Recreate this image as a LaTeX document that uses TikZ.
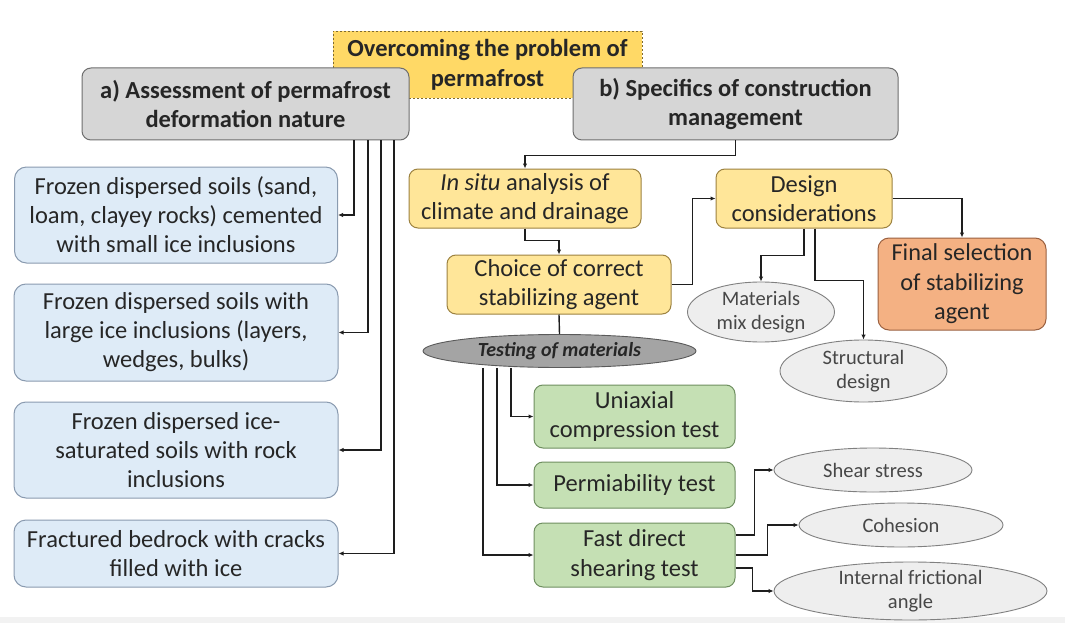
\documentclass[tikz,border=0pt]{standalone}
\usepackage{fontspec}
\setmainfont{Carlito}
\usetikzlibrary{shapes.geometric,arrows.meta}
\definecolor{txt}{HTML}{262626}
\definecolor{grayfill}{HTML}{D6D6D6}
\definecolor{graydraw}{HTML}{6E6E6E}
\definecolor{topfill}{HTML}{FFD966}
\definecolor{topdraw}{HTML}{7F6A30}
\definecolor{bluefill}{HTML}{DEEBF7}
\definecolor{bluedraw}{HTML}{8A9BB0}
\definecolor{yelfill}{HTML}{FFE699}
\definecolor{yeldraw}{HTML}{9C8240}
\definecolor{orfill}{HTML}{F4B183}
\definecolor{ordraw}{HTML}{9A6040}
\definecolor{grfill}{HTML}{C5E0B4}
\definecolor{grdraw}{HTML}{6F8F60}
\definecolor{ellfill}{HTML}{EEEEEE}
\definecolor{elldraw}{HTML}{808080}
\definecolor{testfill}{HTML}{A4A4A4}
\definecolor{testdraw}{HTML}{5A5A5A}
\definecolor{linecol}{HTML}{1E1E1E}
\definecolor{bandcol}{HTML}{F2F2F2}
\tikzset{
  basebox/.style={rectangle, rounded corners=9pt, inner sep=0pt, align=center, text=txt, line width=1pt},
  graybox/.style={basebox, fill=grayfill, draw=graydraw, font=\fontsize{24.5}{29}\selectfont\bfseries},
  topbox/.style={basebox, rounded corners=0pt, fill=topfill, draw=topdraw, dashed, dash pattern=on 2pt off 2pt, line width=0.8pt, font=\fontsize{24.5}{30}\selectfont\bfseries},
  bluebox/.style={basebox, rounded corners=12pt, fill=bluefill, draw=bluedraw, font=\fontsize{24.5}{29}\selectfont},
  yelbox/.style={basebox, fill=yelfill, draw=yeldraw, font=\fontsize{24.5}{29}\selectfont},
  orbox/.style={basebox, rounded corners=11pt, fill=orfill, draw=ordraw, font=\fontsize{24.3}{29.5}\selectfont},
  grbox/.style={basebox, fill=grfill, draw=grdraw, font=\fontsize{24.5}{29.5}\selectfont},
  ellnode/.style={ellipse, inner xsep=0pt, inner ysep=-5pt, align=center, fill=ellfill, draw=elldraw, line width=0.9pt, text=txt!85, font=\fontsize{20.5}{24}\selectfont},
  testnode/.style={ellipse, inner sep=0pt, text height=11pt, text depth=0pt, align=center, fill=testfill, draw=testdraw, line width=0.9pt, text=txt, font=\fontsize{20}{22}\selectfont\bfseries\itshape},
  conn/.style={draw=linecol, line width=1.4pt},
  arr/.style={conn, -{Latex[length=5pt,width=4.5pt]}},
}
\begin{document}
\begin{tikzpicture}[x=1pt,y=-1pt]
\useasboundingbox (0,0) rectangle (1065,623);
\fill[white] (0,0) rectangle (1065,623);
\fill[bandcol] (0,617) rectangle (1065,623);

\node[topbox, minimum width=309pt, minimum height=67pt] (top) at (487.5,64.5) {Overcoming the problem of\\permafrost};
\node[graybox, minimum width=327pt, minimum height=72pt] (boxA) at (245.5,104) {a) Assessment of permafrost\\deformation nature};
\node[graybox, minimum width=325pt, minimum height=72pt] (boxB) at (735.5,104) {b) Specifics of construction\\management};

\node[bluebox, minimum width=323pt, minimum height=96pt] (blue1) at (176,215) {Frozen dispersed soils (sand,\\loam, clayey rocks) cemented\\with small ice inclusions};
\node[bluebox, minimum width=324pt, minimum height=97pt] (blue2) at (176,332.5) {Frozen dispersed soils with\\large ice inclusions (layers,\\wedges, bulks)};
\node[bluebox, minimum width=324pt, minimum height=96pt] (blue3) at (176,450) {Frozen dispersed ice-\\saturated soils with rock\\inclusions};
\node[bluebox, minimum width=324pt, minimum height=67pt] (blue4) at (176,553.5) {Fractured bedrock with cracks\\filled with ice};

\node[yelbox, minimum width=232pt, minimum height=59pt] (insitu) at (525,198.5) {\textit{In situ} analysis of\\climate and drainage};
\node[yelbox, minimum width=224pt, minimum height=59pt] (choice) at (559,284.5) {Choice of correct\\stabilizing agent};
\node[yelbox, minimum width=176pt, minimum height=59pt] (design) at (804,198.5) {Design\\considerations};
\node[orbox, minimum width=168pt, minimum height=92pt] (final) at (962,284) {Final selection\\of stabilizing\\agent};

\node[ellnode, minimum width=147pt, minimum height=60pt] (mat) at (761,312) {Materials\\mix design};
\node[ellnode, minimum width=167pt, minimum height=62pt] (struct) at (863.5,371) {Structural\\design};
\node[testnode, minimum width=273pt, minimum height=33pt] (testing) at (559.5,351) {Testing of materials};

\node[grbox, minimum width=201pt, minimum height=63pt] (uni) at (634.5,416.5) {Uniaxial\\compression test};
\node[grbox, minimum width=201pt, minimum height=46pt] (perm) at (634.5,485) {Permiability test};
\node[grbox, minimum width=201pt, minimum height=64pt] (fast) at (634.5,555) {Fast direct\\shearing test};

\node[ellnode, minimum width=198pt, minimum height=44pt] (shear) at (873,470) {Shear stress};
\node[ellnode, minimum width=204pt, minimum height=44pt] (cohesion) at (901,525) {Cohesion};
\node[ellnode, minimum width=273pt, minimum height=58pt] (internal) at (910.5,591) {Internal frictional\\angle};

% left branch
\draw[arr] (354,0 |- boxA.south) |- (blue1.east);
\draw[arr] (368,0 |- boxA.south) |- (blue2.east);
\draw[arr] (381,0 |- boxA.south) |- (blue3.east);
\draw[arr] (394,0 |- boxA.south) |- (blue4.east);

% right branch
\draw[arr] (boxB.south) -- ++(0,15) -| (insitu.north);
\draw[arr] (insitu.south) -- ++(0,12) -| (choice.north);
\draw[arr] (choice.east) -- ++(21,0) |- (design.west);
\draw[arr] (design.east) -| (final.north);
\draw[arr] (design.south) -- ++(0,27) -| (mat.north);
\draw[arr] ([xshift=11pt]design.south) -- ++(0,52) -| (struct.north);
\draw[conn] (choice.south) -- (testing.north);

\draw[arr] (511,0 |- testing.south) |- (uni.west);
\draw[arr] (497,0 |- testing.south) |- (perm.west);
\draw[arr] (483,0 |- testing.south) |- (fast.west);

\draw[arr] ([yshift=20pt]fast.east) -- ++(19,0) |- (shear.west);
\draw[arr] (fast.east) -- ++(32,0) |- (cohesion.west);
\draw[arr] ([yshift=-13pt]fast.east) -- ++(17,0) |- (internal.west);
\end{tikzpicture}
\end{document}
